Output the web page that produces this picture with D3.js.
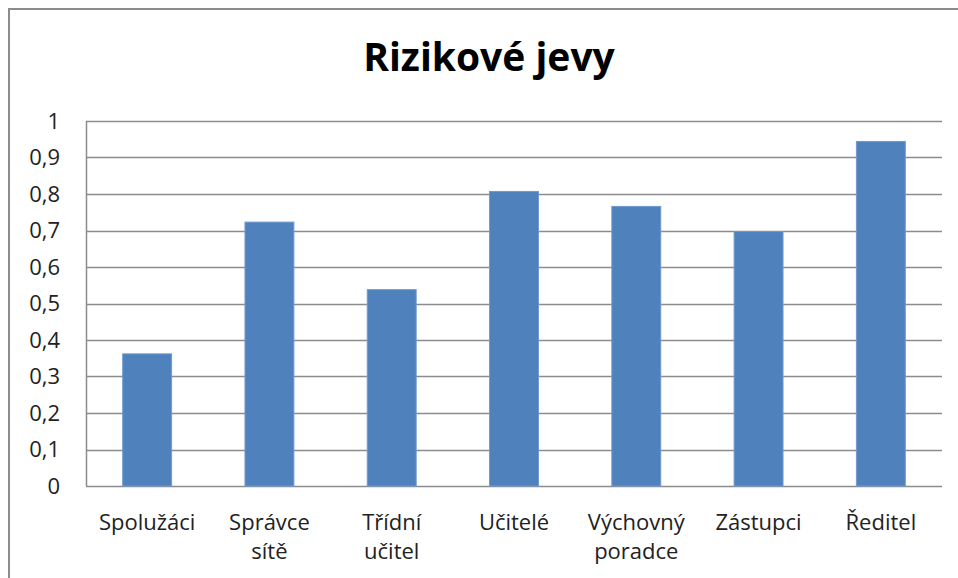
<!DOCTYPE html>
<html>
<head>
<meta charset="utf-8">
<script src="https://cdn.jsdelivr.net/npm/d3@7"></script>
<style>
  body { margin: 0; background: #fff; }
  svg text { font-family: "Open Sans", Lato, sans-serif; fill: #222; }
</style>
</head>
<body>
<div id="chart-container"></div>
<script>
const categories = ["Spolužáci", "Správce sítě", "Třídní učitel", "Učitelé", "Výchovný poradce", "Zástupci", "Ředitel"];
const categoryLines = [["Spolužáci"], ["Správce", "sítě"], ["Třídní", "učitel"], ["Učitelé"], ["Výchovný", "poradce"], ["Zástupci"], ["Ředitel"]];
const values = [0.362, 0.723, 0.538, 0.807, 0.766, 0.697, 0.944];
const yTicks = [0, 0.1, 0.2, 0.3, 0.4, 0.5, 0.6, 0.7, 0.8, 0.9, 1];
const chartTitle = "Rizikové jevy";

const W = 958, H = 578;
const margin = {top: 121, right: 16, bottom: 92, left: 86},
      width = W - margin.left - margin.right,
      height = H - margin.top - margin.bottom;

const svg = d3.select("#chart-container").append("svg")
    .attr("width", W)
    .attr("height", H);

// outer chart frame (only top/left visible in the original)
svg.append("rect")
    .attr("x", 9).attr("y", 9)
    .attr("width", W + 20).attr("height", H + 20)
    .attr("fill", "none")
    .attr("stroke", "#8c8c8c")
    .attr("stroke-width", 2);

svg.append("text")
    .attr("x", 489)
    .attr("y", 71)
    .attr("text-anchor", "middle")
    .style("font-size", "39px")
    .style("font-weight", "bold")
    .style("fill", "#000")
    .text(chartTitle);

const g = svg.append("g")
    .attr("transform", `translate(${margin.left}, ${margin.top})`);

const x = d3.scaleBand()
    .domain(categories)
    .range([0, width])
    .paddingInner(0.6)
    .paddingOuter(0.3);

const y = d3.scaleLinear()
    .domain([0, 1])
    .range([height, 0]);

// gridlines
g.append("g")
    .selectAll("line")
    .data(yTicks)
    .enter().append("line")
    .attr("x1", 0).attr("x2", width)
    .attr("y1", d => Math.round(y(d)) + 0.5)
    .attr("y2", d => Math.round(y(d)) + 0.5)
    .attr("stroke", "#8c8c8c")
    .attr("stroke-width", 1.5);

// left axis line
g.append("line")
    .attr("x1", 0.5).attr("x2", 0.5)
    .attr("y1", 0).attr("y2", height)
    .attr("stroke", "#8c8c8c")
    .attr("stroke-width", 1.5);

// y tick labels
const fmt = d => String(d).replace(".", ",");
g.append("g")
    .selectAll("text")
    .data(yTicks)
    .enter().append("text")
    .attr("x", -26)
    .attr("y", d => y(d))
    .attr("dy", "0.35em")
    .attr("text-anchor", "end")
    .style("font-size", "22px")
    .text(fmt);

// bars
g.selectAll(".bar")
    .data(values)
    .enter().append("rect")
    .attr("class", "bar")
    .attr("x", (d, i) => x(categories[i]))
    .attr("width", x.bandwidth())
    .attr("y", d => y(d))
    .attr("height", d => height - y(d))
    .attr("fill", "#4f81bd")
    .attr("stroke", "#6f9bd0")
    .attr("stroke-width", 1);

// x labels, wrapped like the original
const xl = g.append("g")
    .selectAll("text")
    .data(categories)
    .enter().append("text")
    .attr("text-anchor", "middle")
    .attr("transform", d => `translate(${x(d) + x.bandwidth() / 2}, ${height + 44})`)
    .style("font-size", "22px");

xl.selectAll("tspan")
    .data((d, i) => categoryLines[i])
    .enter().append("tspan")
    .attr("x", 0)
    .attr("dy", (d, i) => i === 0 ? 0 : 29)
    .text(d => d);
</script>
</body>
</html>
